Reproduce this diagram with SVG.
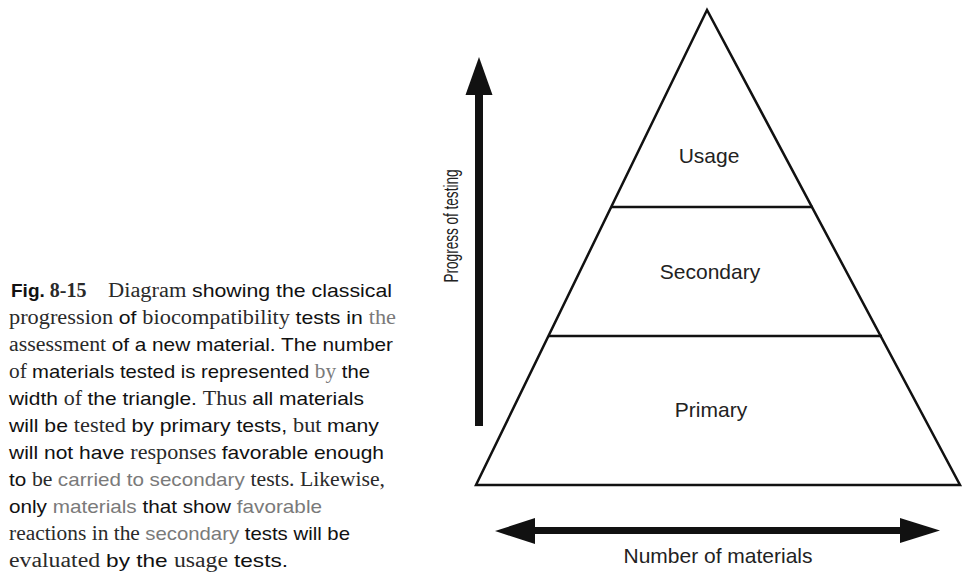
<svg xmlns="http://www.w3.org/2000/svg" width="968" height="573" viewBox="0 0 968 573">
  <style>
    .sans { font-family: "Liberation Sans", Arial, sans-serif; }
    .ser { font-family: "Liberation Serif", "Times New Roman", serif; fill: #2a2a2a; }
    .grey { fill: #7a7a7a; }
    .cap { font-size: 19px; fill: #111; }
    .lbl { font-family: "Liberation Sans", Arial, sans-serif; font-size: 21px; fill: #222; text-anchor: middle; }
    .edge { fill: none; stroke: #111; stroke-width: 2.5; stroke-linejoin: miter; }
  </style>

  <rect width="968" height="573" fill="#ffffff"/>

  <!-- caption -->
  <g id="caption" class="cap sans">
    <text x="11" y="297" font-weight="bold"><tspan class="sans">Fig.</tspan><tspan class="ser" fill="#111" font-size="20"> 8-15</tspan></text>
    <text x="108" y="297" textLength="284" lengthAdjust="spacingAndGlyphs"><tspan class="ser" font-size="20">Diagram </tspan><tspan>showing the classical</tspan></text>
    <text x="9" y="324" textLength="387" lengthAdjust="spacingAndGlyphs"><tspan class="ser" font-size="20">progression </tspan><tspan>of </tspan><tspan class="ser" font-size="20">biocompatibility </tspan><tspan>tests in </tspan><tspan class="ser grey" font-size="20">the</tspan></text>
    <text x="9" y="351" textLength="384" lengthAdjust="spacingAndGlyphs"><tspan class="ser" font-size="20">assessment </tspan><tspan>of a new material. The number</tspan></text>
    <text x="9" y="378" textLength="361" lengthAdjust="spacingAndGlyphs"><tspan class="ser" font-size="20">of </tspan><tspan>materials tested is represented </tspan><tspan class="ser grey" font-size="20">by</tspan><tspan> the</tspan></text>
    <text x="9" y="405" textLength="355" lengthAdjust="spacingAndGlyphs"><tspan>width </tspan><tspan class="ser" font-size="20">of </tspan><tspan>the triangle. </tspan><tspan class="ser" font-size="20">Thus </tspan><tspan>all materials</tspan></text>
    <text x="9" y="432" textLength="370" lengthAdjust="spacingAndGlyphs"><tspan>will be </tspan><tspan class="ser" font-size="20">tested </tspan><tspan>by primary tests, </tspan><tspan class="ser" font-size="20">but </tspan><tspan>many</tspan></text>
    <text x="9" y="459" textLength="375" lengthAdjust="spacingAndGlyphs"><tspan>will not have </tspan><tspan class="ser" font-size="20">responses </tspan><tspan>favorable enough</tspan></text>
    <text x="9" y="486" textLength="376" lengthAdjust="spacingAndGlyphs"><tspan>to </tspan><tspan class="ser" font-size="20">be </tspan><tspan class="grey">carried to secondary </tspan><tspan class="ser" font-size="20">tests. Likewise,</tspan></text>
    <text x="9" y="513" textLength="313" lengthAdjust="spacingAndGlyphs"><tspan>only </tspan><tspan class="grey">materials </tspan><tspan>that show </tspan><tspan class="grey">favorable</tspan></text>
    <text x="9" y="540" textLength="341" lengthAdjust="spacingAndGlyphs"><tspan class="ser" font-size="20">reactions in the </tspan><tspan class="grey">secondary </tspan><tspan>tests will be</tspan></text>
    <text x="9" y="567" textLength="279" lengthAdjust="spacingAndGlyphs"><tspan class="ser" font-size="20">evaluated </tspan><tspan>by the </tspan><tspan class="ser" font-size="20">usage </tspan><tspan>tests.</tspan></text>
  </g>

  <!-- pyramid of test stages -->
  <g id="pyramid">
    <polygon class="edge" points="707,10 476,485 960,485"/>
  </g>
  <g id="usage">
    <line class="edge" x1="611" y1="207" x2="813" y2="207"/>
    <text class="lbl" x="709" y="163">Usage</text>
  </g>
  <g id="secondary">
    <line class="edge" x1="548" y1="336" x2="882" y2="336"/>
    <text class="lbl" x="710" y="279">Secondary</text>
  </g>
  <g id="primary">
    <text class="lbl" x="711" y="417">Primary</text>
  </g>

  <!-- axes -->
  <g id="connectors" fill="#111">
    <!-- progress of testing (upward) -->
    <rect x="475" y="90" width="8" height="336"/>
    <polygon points="479,57 492.5,95 465.5,95"/>
    <!-- number of materials (both ways) -->
    <rect x="530" y="527" width="375" height="7"/>
    <polygon points="495,531 535,518 535,544"/>
    <polygon points="940,530.5 900,518 900,543"/>
  </g>

  <g id="axis-labels">
    <text class="sans" font-size="19.5" fill="#222" transform="translate(458,226) rotate(-90)" text-anchor="middle" textLength="113" lengthAdjust="spacingAndGlyphs">Progress of testing</text>
    <text class="lbl" x="718" y="563">Number of materials</text>
  </g>
</svg>
